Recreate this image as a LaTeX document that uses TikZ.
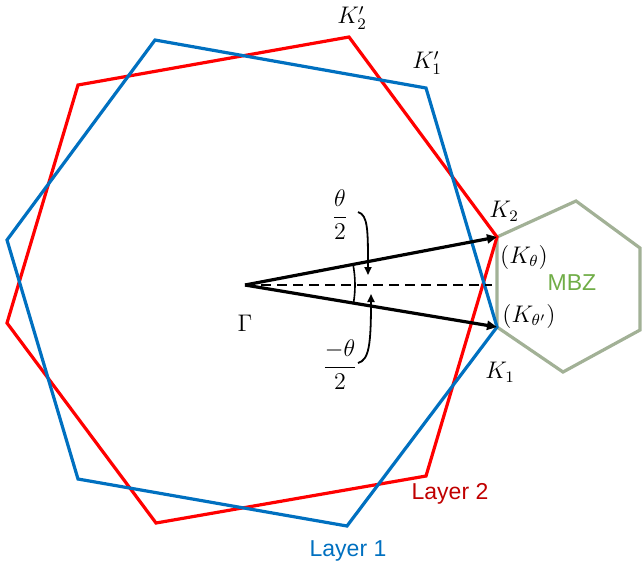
\documentclass[tikz,border=0pt]{standalone}
\usepackage{amsmath}
\usepackage{fontspec}
\setsansfont{Liberation Sans}
\usetikzlibrary{arrows.meta}
\definecolor{blueL}{HTML}{0070C0}
\definecolor{redL}{HTML}{FF0000}
\definecolor{darkredL}{HTML}{C00000}
\definecolor{mbzline}{HTML}{A2B196}
\definecolor{mbztext}{HTML}{70AD47}
\begin{document}
\begin{tikzpicture}[x=0.5pt,y=-0.5pt,
  hexline/.style={line width=1.6pt,line join=miter},
  vec/.style={line width=1.6pt,-{Triangle[length=5pt,width=4.5pt]}},
  curvarrow/.style={line width=0.9pt,-{Triangle[length=4pt,width=3.5pt]}},
  lab/.style={inner sep=0pt,font=\fontsize{12}{14}\selectfont},
  laylab/.style={inner sep=0pt,font=\sffamily\fontsize{11.5}{13}\selectfont}]
\useasboundingbox (0,0) rectangle (642,564);
% Layer 1 (blue) vertices
\coordinate (b1) at (155,40);
\coordinate (b2) at (426,88);
\coordinate (K1) at (497,327);
\coordinate (b4) at (347,526);
\coordinate (b5) at (78,479);
\coordinate (b6) at (7,240);
% Layer 2 (red) vertices
\coordinate (r1) at (78,85);
\coordinate (r2) at (349,37);
\coordinate (K2) at (497,237);
\coordinate (r4) at (426,476);
\coordinate (r5) at (156,523);
\coordinate (r6) at (7,323);
% MBZ vertices
\coordinate (m2) at (576,201);
\coordinate (m3) at (640,248);
\coordinate (m4) at (640,330);
\coordinate (m5) at (563,372);
% centre
\coordinate (G) at (245,285);
\coordinate (D) at (492,285);

\draw[hexline,mbzline] (K2) -- (m2) -- (m3) -- (m4) -- (m5) -- (K1) -- cycle;
\draw[hexline,redL] (r1) -- (r2) -- (K2) -- (r4) -- (r5) -- (r6) -- cycle;
\draw[hexline,blueL] (b1) -- (b2) -- (K1) -- (b4) -- (b5) -- (b6) -- cycle;

\draw[line width=1pt,dash pattern=on 5pt off 3pt] (G) -- (D);
\draw[vec] (G) -- (K2);
\draw[vec] (G) -- (K1);
\draw[line width=0.8pt] (G) ++(-10.8:110) arc[start angle=-10.8,end angle=9.5,radius=110];

\coordinate (c1s) at (358,212);
\coordinate (c1e) at (368,275);
\coordinate (c2s) at (358,363);
\coordinate (c2e) at (371,294);
\draw[curvarrow] (c1s) .. controls (368,215) and (368,230) .. (c1e);
\draw[curvarrow] (c2s) .. controls (369,360) and (371,345) .. (c2e);

\node[lab] (fp) at (340,215) {$\dfrac{\theta}{2}$};
\node[lab] (fm) at (340,365) {$\dfrac{-\theta}{2}$};
\node[lab] (gam) at (245,323) {$\Gamma$};
\node[lab] (k2p) at (352,18) {$K_2'$};
\node[lab] (k1p) at (427,63) {$K_1'$};
\node[lab] (k2) at (504,211) {$K_2$};
\node[lab] (k1) at (500,372) {$K_1$};
\node[lab] (kt) at (524,257) {$(K_\theta)$};
\node[lab] (ktp) at (529,316) {$(K_{\theta'})$};
\node[laylab,text=mbztext] (mbz) at (572,283) {MBZ};
\node[laylab,text=darkredL] (l2) at (450,494) {Layer 2};
\node[laylab,text=blueL] (l1) at (348,551) {Layer 1};
\end{tikzpicture}
\end{document}
